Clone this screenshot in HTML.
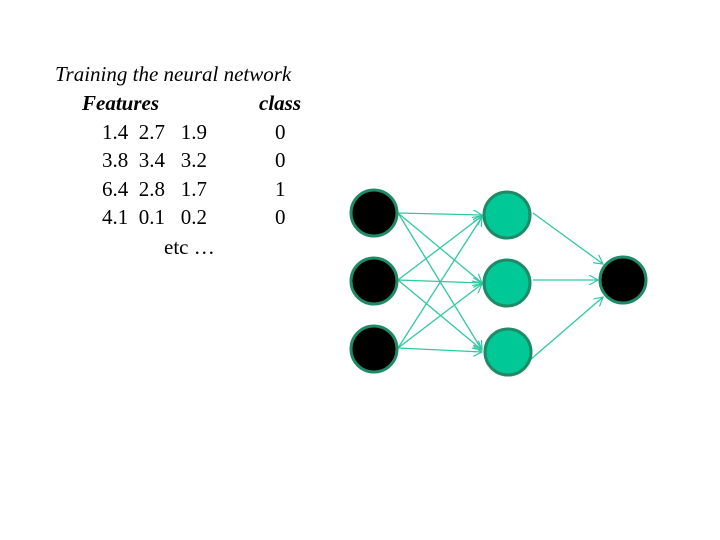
<!DOCTYPE html>
<html><head><meta charset="utf-8"><style>
html,body{margin:0;padding:0;background:#fff;}
#c{position:relative;width:720px;height:540px;overflow:hidden;font-family:"Liberation Serif",serif;color:#000;}
.t{position:absolute;font-size:21px;line-height:1;white-space:pre;}
</style></head><body><div id="c">
<div class="t" style="left:55px;top:64px;font-style:italic;">Training the neural network</div>
<div class="t" style="left:82px;top:93px;font-style:italic;font-weight:bold;">Features</div>
<div class="t" style="left:259px;top:93px;font-style:italic;font-weight:bold;">class</div>
<div class="t" style="left:102px;top:122px;">1.4  2.7   1.9</div>
<div class="t" style="left:102px;top:150px;">3.8  3.4   3.2</div>
<div class="t" style="left:102px;top:179px;">6.4  2.8   1.7</div>
<div class="t" style="left:102px;top:207px;">4.1  0.1   0.2</div>
<div class="t" style="left:275px;top:122px;">0</div>
<div class="t" style="left:275px;top:150px;">0</div>
<div class="t" style="left:275px;top:179px;">1</div>
<div class="t" style="left:275px;top:207px;">0</div>
<div class="t" style="left:164px;top:237px;">etc …</div>
<svg width="720" height="540" style="position:absolute;left:0;top:0">
<defs><marker id="a" markerWidth="10" markerHeight="10" refX="9" refY="5" orient="auto" markerUnits="userSpaceOnUse"><path d="M0,0 L9,5 L0,10" fill="none" stroke="#2fc9a0" stroke-width="1.2"/></marker></defs>
<g stroke="#2fc9a0" stroke-width="1.3" fill="none" marker-end="url(#a)">
<line x1="398" y1="213" x2="482" y2="215"/>
<line x1="398" y1="213" x2="482" y2="283"/>
<line x1="398" y1="213" x2="482" y2="350"/>
<line x1="398" y1="280" x2="482" y2="216"/>
<line x1="398" y1="280" x2="482" y2="283"/>
<line x1="398" y1="280" x2="482" y2="350"/>
<line x1="398" y1="348" x2="482" y2="217"/>
<line x1="398" y1="348" x2="482" y2="284"/>
<line x1="398" y1="348" x2="482" y2="352"/>
<line x1="533" y1="213" x2="603" y2="264"/>
<line x1="533" y1="280" x2="598" y2="280"/>
<line x1="530" y1="360" x2="603" y2="297"/>
</g>
<g stroke="#1f8a66" stroke-width="3">
<circle cx="374" cy="213" r="23" fill="#000"/>
<circle cx="374" cy="281" r="23" fill="#000"/>
<circle cx="374" cy="349" r="23" fill="#000"/>
<circle cx="507" cy="215" r="23" fill="#00c896"/>
<circle cx="507" cy="283" r="23" fill="#00c896"/>
<circle cx="508" cy="352" r="23" fill="#00c896"/>
<circle cx="623" cy="280" r="23" fill="#000"/>
</g>
</svg>
</div></body></html>
